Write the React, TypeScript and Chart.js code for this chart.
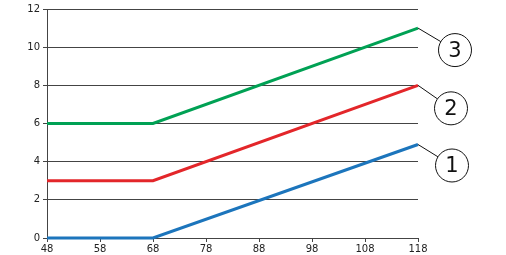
import React, { useEffect, useRef } from "react";
import { Chart, registerables } from "chart.js";

Chart.register(...registerables);

const xValues = [48, 68, 118];
const seriesBlue = [0, 0, 4.9];
const seriesRed = [3, 3, 8];
const seriesGreen = [6, 6, 11];
const calloutLabels = ["1", "2", "3"];
const xTicks = [48, 58, 68, 78, 88, 98, 108, 118];

const COLORS = ["rgb(28,117,188)", "rgb(227,38,42)", "rgb(0,161,84)"];
const CALLOUT_OFFSETS = [
  [34, 21],
  [33, 23],
  [37, 22],
];
const CIRCLE_R = 16.5;
const FONT = "'DejaVu Sans', sans-serif";

const calloutPlugin = {
  id: "callouts",
  afterDatasetsDraw(chart: any) {
    const ctx = chart.ctx;
    ctx.save();
    chart.data.datasets.forEach((ds: any, i: number) => {
      const meta = chart.getDatasetMeta(i);
      const pt = meta.data[meta.data.length - 1];
      if (!pt) return;
      const [dx, dy] = CALLOUT_OFFSETS[i];
      const cx = pt.x + dx;
      const cy = pt.y + dy;
      const len = Math.sqrt(dx * dx + dy * dy);
      const ex = cx - (dx / len) * CIRCLE_R;
      const ey = cy - (dy / len) * CIRCLE_R;
      ctx.strokeStyle = "#111";
      ctx.lineWidth = 1;
      ctx.beginPath();
      ctx.moveTo(pt.x, pt.y);
      ctx.lineTo(ex, ey);
      ctx.stroke();
      ctx.beginPath();
      ctx.arc(cx, cy, CIRCLE_R, 0, Math.PI * 2);
      ctx.fillStyle = "#fff";
      ctx.fill();
      ctx.stroke();
      ctx.fillStyle = "#111";
      ctx.font = `21px ${FONT}`;
      ctx.textAlign = "center";
      ctx.textBaseline = "middle";
      ctx.fillText(calloutLabels[i], cx, cy + 1);
    });
    ctx.restore();
  },
};

export default function App() {
  const ref = useRef<HTMLCanvasElement>(null);
  useEffect(() => {
    if (!ref.current) return;
    const mk = (vals: number[]) => xValues.map((x, i) => ({ x, y: vals[i] }));
    const chart = new Chart(ref.current, {
      type: "line",
      data: {
        datasets: [seriesBlue, seriesRed, seriesGreen].map((vals, i) => ({
          data: mk(vals),
          borderColor: COLORS[i],
          borderWidth: 3,
          pointRadius: 0,
          tension: 0,
          fill: false,
          clip: false as any,
        })),
      },
      options: {
        animation: false,
        responsive: false,
        devicePixelRatio: 1,
        layout: { padding: { left: 0, right: 88, top: 8, bottom: 0 } },
        plugins: { legend: { display: false }, tooltip: { enabled: false } },
        scales: {
          x: {
            type: "linear",
            min: 48,
            max: 118,
            afterBuildTicks: (scale: any) => {
              scale.ticks = xTicks.map((v) => ({ value: v }));
            },
            afterFit: (scale: any) => {
              scale.height = 17;
            },
            grid: {
              drawOnChartArea: false,
              drawTicks: true,
              tickLength: 4,
              color: "#444",
            },
            border: { display: true, color: "#444", width: 1 },
            ticks: {
              color: "#222",
              padding: 1,
              maxRotation: 0,
              autoSkip: false,
              font: { family: FONT, size: 10 },
            },
          },
          y: {
            min: 0,
            max: 12,
            afterFit: (scale: any) => {
              scale.width = 47;
            },
            grid: {
              drawOnChartArea: true,
              drawTicks: true,
              tickLength: 4,
              color: "#444",
            },
            border: { display: true, color: "#444", width: 1 },
            ticks: {
              stepSize: 2,
              color: "#222",
              padding: 3,
              font: { family: FONT, size: 10 },
            },
          },
        },
      },
      plugins: [calloutPlugin],
    });
    return () => chart.destroy();
  }, []);
  return (
    <div style={{ position: "fixed", left: 0, top: 0, width: 506, height: 255, background: "#fff" }}>
      <canvas ref={ref} width={506} height={255} />
    </div>
  );
}
